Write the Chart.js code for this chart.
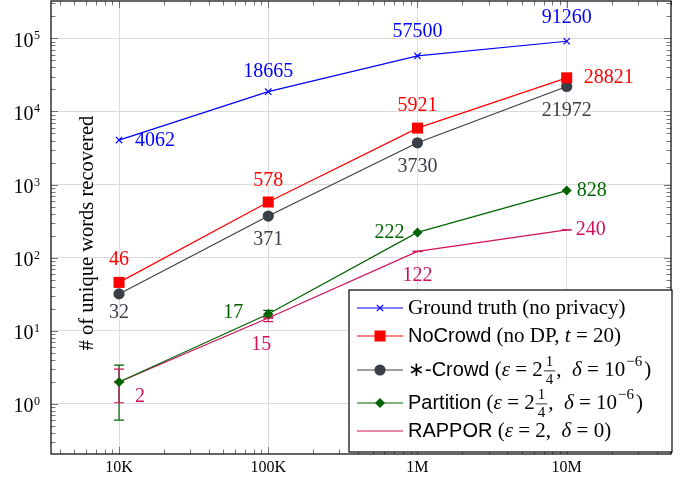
<!DOCTYPE html>
<html lang="en">
<head>
    <meta charset="UTF-8">
    <title>Unique words recovered</title>
    <style>
        html, body { margin: 0; padding: 0; background: #fff; }
        canvas { display: block; }
    </style>
</head>
<body>
    <canvas id="myChart" width="683" height="484"></canvas>

    <script src="https://cdn.jsdelivr.net/npm/chart.js@4.4.1/dist/chart.umd.min.js"></script>
    <script>
        // number of users on the x axis
        var sizes = [1e4, 1e5, 1e6, 1e7];
        var sizeLabels = ['10K', '100K', '1M', '10M'];
        var yTicks = [1, 10, 100, 1000, 10000, 100000];

        var groundTruth = [4062, 18665, 57500, 91260];
        var noCrowd = [46, 578, 5921, 28821];
        var starCrowd = [32, 371, 3730, 21972];
        var partition = [2, 17, 222, 828];
        var rappor = [2, 15, 122, 240];

        // error bars (low / high), null = none drawn
        var partitionLow = [0.6, 15.5, null, null];
        var partitionHigh = [3.4, 19, null, null];
        var rapporLow = [1.04, 13.4, null, null];
        var rapporHigh = [3.0, 16.6, null, null];

        var SERIF = 'Liberation Serif';
        var SANS = 'Liberation Sans';

        function pts(values) {
            return values.map(function (v, i) { return { x: sizes[i], y: v }; });
        }

        var dataSource = {
            datasets: [
                {
                    label: 'Ground truth (no privacy)',
                    data: pts(groundTruth),
                    borderColor: '#0000ff',
                    backgroundColor: '#0000ff',
                    pointStyle: 'crossRot',
                    pointRadius: 4.5,
                    pointBorderWidth: 1.2,
                    labelAt: [[16, 1, 'left'], [0, -20, 'center'], [0, -24, 'center'], [0, -23, 'center']]
                },
                {
                    label: 'NoCrowd',
                    data: pts(noCrowd),
                    borderColor: '#ff0000',
                    backgroundColor: '#ff0000',
                    pointStyle: 'rect',
                    pointRadius: 7.8,
                    pointBorderWidth: 0,
                    labelAt: [[0, -23, 'center'], [0, -21, 'center'], [0, -22, 'center'], [17, 0, 'left']]
                },
                {
                    label: '*-Crowd',
                    data: pts(starCrowd),
                    borderColor: '#3a3f47',
                    backgroundColor: '#3a3f47',
                    pointStyle: 'circle',
                    pointRadius: 5.6,
                    pointBorderWidth: 0,
                    labelAt: [[0, 19, 'center'], [0, 24, 'center'], [0, 24, 'center'], [0, 24, 'center']]
                },
                {
                    label: 'Partition',
                    data: pts(partition),
                    borderColor: '#006400',
                    backgroundColor: '#006400',
                    pointStyle: 'rectRot',
                    pointRadius: 5,
                    pointBorderWidth: 0,
                    errLow: partitionLow,
                    errHigh: partitionHigh,
                    labelAt: [null, [-25, -1, 'right'], [-13, 0, 'right'], [10, 0, 'left']]
                },
                {
                    label: 'RAPPOR',
                    data: pts(rappor),
                    borderColor: '#d0105a',
                    backgroundColor: '#d0105a',
                    pointStyle: 'line',
                    pointRadius: 5,
                    pointBorderWidth: 1.6,
                    errLow: rapporLow,
                    errHigh: rapporHigh,
                    noLegendMark: true,
                    labelAt: [[16, 15, 'left'], [-7, 27, 'center'], [0, 24, 'center'], [9, 0, 'left']]
                }
            ]
        };

        var it = 'italic 21px ' + SERIF;
        var rm = '21px ' + SERIF;
        var sf = '20px ' + SANS;
        var epsDelta = [
            { s: ' (', f: rm }, { s: 'ε', f: it }, { s: ' = 2', f: rm }, { frac: ['1', '4'] },
            { s: ',  ', f: rm }, { s: 'δ', f: it }, { s: ' = 10', f: rm }, { sup: '\u22126' }, { s: ')', f: rm }
        ];
        var legendRows = [
            [{ s: 'Ground truth (no privacy)', f: rm }],
            [{ s: 'NoCrowd', f: sf }, { s: ' (no DP, ', f: rm }, { s: 't', f: it }, { s: ' = 20)', f: rm }],
            [{ s: '\u2217-Crowd', f: sf }].concat(epsDelta),
            [{ s: 'Partition', f: sf }].concat(epsDelta),
            [{ s: 'RAPPOR', f: sf }, { s: ' (', f: rm }, { s: 'ε', f: it }, { s: ' = 2,  ', f: rm },
                { s: 'δ', f: it }, { s: ' = 0)', f: rm }]
        ];
        var legendRowY = [18, 46, 80, 113, 141];

        function drawRich(ctx, parts, x, y) {
            parts.forEach(function (p) {
                if (p.frac) {
                    ctx.font = '15px ' + SERIF;
                    var w = Math.max(ctx.measureText(p.frac[0]).width, ctx.measureText(p.frac[1]).width) + 4;
                    ctx.textAlign = 'center';
                    ctx.fillText(p.frac[0], x + 1 + w / 2, y - 8);
                    ctx.fillText(p.frac[1], x + 1 + w / 2, y + 10);
                    ctx.fillRect(x + 1, y + 0.5, w, 0.8);
                    ctx.textAlign = 'left';
                    x += w + 2;
                } else if (p.sup) {
                    ctx.font = '15px ' + SERIF;
                    ctx.fillText(p.sup, x + 1, y - 8);
                    x += ctx.measureText(p.sup).width + 3;
                } else {
                    ctx.font = p.f;
                    ctx.fillText(p.s, x, y);
                    x += ctx.measureText(p.s).width;
                }
            });
        }

        var decorations = {
            id: 'decorations',
            beforeDatasetsDraw: function (chart) {
                var ctx = chart.ctx;
                var xs = chart.scales.x, ys = chart.scales.y;
                chart.data.datasets.forEach(function (ds) {
                    if (!ds.errLow) return;
                    ctx.save();
                    ctx.strokeStyle = ds.borderColor;
                    ctx.lineWidth = 1.2;
                    ds.data.forEach(function (p, i) {
                        if (ds.errLow[i] == null) return;
                        var px = xs.getPixelForValue(p.x);
                        var lo = ys.getPixelForValue(ds.errLow[i]);
                        var hi = ys.getPixelForValue(ds.errHigh[i]);
                        ctx.beginPath();
                        ctx.moveTo(px, lo); ctx.lineTo(px, hi);
                        ctx.moveTo(px - 5, lo); ctx.lineTo(px + 5, lo);
                        ctx.moveTo(px - 5, hi); ctx.lineTo(px + 5, hi);
                        ctx.stroke();
                    });
                    ctx.restore();
                });
            },
            afterDatasetsDraw: function (chart) {
                var ctx = chart.ctx;
                var xs = chart.scales.x, ys = chart.scales.y;
                ctx.save();
                ctx.font = '20px ' + SERIF;
                ctx.textBaseline = 'middle';
                chart.data.datasets.forEach(function (ds) {
                    ctx.fillStyle = ds.borderColor;
                    ds.data.forEach(function (p, i) {
                        var at = ds.labelAt[i];
                        if (!at) return;
                        ctx.textAlign = at[2];
                        ctx.fillText(String(p.y), xs.getPixelForValue(p.x) + at[0], ys.getPixelForValue(p.y) + at[1]);
                    });
                });
                ctx.restore();
            },
            afterDraw: function (chart) {
                var ctx = chart.ctx;
                var a = chart.chartArea;
                var xs = chart.scales.x, ys = chart.scales.y;
                ctx.save();

                // inward ticks on all four sides
                ctx.strokeStyle = '#555';
                ctx.lineWidth = 0.8;
                ctx.beginPath();
                for (var e = 3; e <= 7; e++) {
                    for (var k = 1; k <= 9; k++) {
                        var v = k * Math.pow(10, e);
                        if (v < xs.min || v > xs.max) continue;
                        var len = k === 1 ? 7 : 4.5;
                        var px = Math.round(xs.getPixelForValue(v)) + 0.5;
                        ctx.moveTo(px, a.bottom); ctx.lineTo(px, a.bottom - len);
                        ctx.moveTo(px, a.top); ctx.lineTo(px, a.top + len);
                    }
                }
                for (var e2 = -1; e2 <= 5; e2++) {
                    for (var k2 = 1; k2 <= 9; k2++) {
                        var v2 = k2 * Math.pow(10, e2);
                        if (v2 < ys.min || v2 > ys.max) continue;
                        var len2 = k2 === 1 ? 7 : 4.5;
                        var py = Math.round(ys.getPixelForValue(v2)) + 0.5;
                        ctx.moveTo(a.left, py); ctx.lineTo(a.left + len2, py);
                        ctx.moveTo(a.right, py); ctx.lineTo(a.right - len2, py);
                    }
                }
                ctx.stroke();

                // frame
                ctx.strokeStyle = '#000';
                ctx.lineWidth = 1.2;
                ctx.strokeRect(a.left, a.top, a.right - a.left, a.bottom - a.top);

                // x tick labels
                ctx.fillStyle = '#000';
                ctx.font = '16px ' + SERIF;
                ctx.textAlign = 'center';
                ctx.textBaseline = 'middle';
                sizes.forEach(function (v, i) {
                    ctx.fillText(sizeLabels[i], xs.getPixelForValue(v), a.bottom + 14);
                });

                // y tick labels 10^n
                ctx.textBaseline = 'alphabetic';
                yTicks.forEach(function (v) {
                    var py = ys.getPixelForValue(v);
                    var exp = String(Math.round(Math.log10(v)));
                    ctx.font = '12px ' + SERIF;
                    var ew = ctx.measureText(exp).width;
                    ctx.textAlign = 'left';
                    ctx.fillText(exp, 40 - ew, py + 1);
                    ctx.font = '20px ' + SERIF;
                    ctx.textAlign = 'right';
                    ctx.fillText('10', 40 - ew - 0.5, py + 8.5);
                });

                // y axis title
                ctx.save();
                ctx.translate(88, 233);
                ctx.rotate(-Math.PI / 2);
                ctx.font = '20.5px ' + SERIF;
                ctx.textAlign = 'center';
                ctx.textBaseline = 'middle';
                ctx.fillText('# of unique words recovered', 0, 0);
                ctx.restore();

                // legend
                var lx = 349, ly = 290, lw = 323, lh = 162;
                ctx.fillStyle = '#fff';
                ctx.fillRect(lx, ly, lw, lh);
                ctx.strokeStyle = '#000';
                ctx.lineWidth = 1.2;
                ctx.strokeRect(lx, ly, lw, lh);
                chart.data.datasets.forEach(function (ds, i) {
                    var ry = ly + legendRowY[i];
                    ctx.strokeStyle = ds.borderColor;
                    ctx.lineWidth = 1.2;
                    ctx.beginPath();
                    ctx.moveTo(lx + 8, ry); ctx.lineTo(lx + 54, ry);
                    ctx.stroke();
                    if (!ds.noLegendMark) {
                        ctx.fillStyle = ds.backgroundColor;
                        ctx.lineWidth = ds.pointBorderWidth || 1;
                        Chart.helpers.drawPoint(ctx, {
                            pointStyle: ds.pointStyle,
                            radius: ds.pointRadius,
                            borderWidth: ds.pointBorderWidth
                        }, lx + 31, ry);
                    }
                    ctx.fillStyle = '#000';
                    ctx.textAlign = 'left';
                    ctx.textBaseline = 'middle';
                    drawRich(ctx, legendRows[i], lx + 59, ry);
                });

                ctx.restore();
            }
        };

        function logScale(min, max, ticks) {
            return {
                type: 'logarithmic',
                min: min,
                max: max,
                afterBuildTicks: function (scale) {
                    scale.ticks = ticks.map(function (v) { return { value: v }; });
                },
                ticks: { display: false },
                grid: { color: '#dcdcdc', lineWidth: 1, drawTicks: false },
                border: { display: false }
            };
        }

        function createChart() {
            var ctx = document.getElementById('myChart').getContext('2d');
            var myChart = new Chart(ctx, {
                type: 'line',
                data: dataSource,
                options: {
                    responsive: false,
                    animation: false,
                    devicePixelRatio: 1,
                    layout: { autoPadding: false, padding: { left: 51, top: 1, right: 12, bottom: 30 } },
                    elements: { line: { borderWidth: 1.2, tension: 0 } },
                    scales: {
                        x: logScale(3500, 5e7, sizes),
                        y: logScale(0.207, 324000, yTicks)
                    },
                    plugins: {
                        legend: { display: false },
                        tooltip: { enabled: false }
                    }
                },
                plugins: [decorations]
            });
        }
        createChart();
    </script>
</body>
</html>
